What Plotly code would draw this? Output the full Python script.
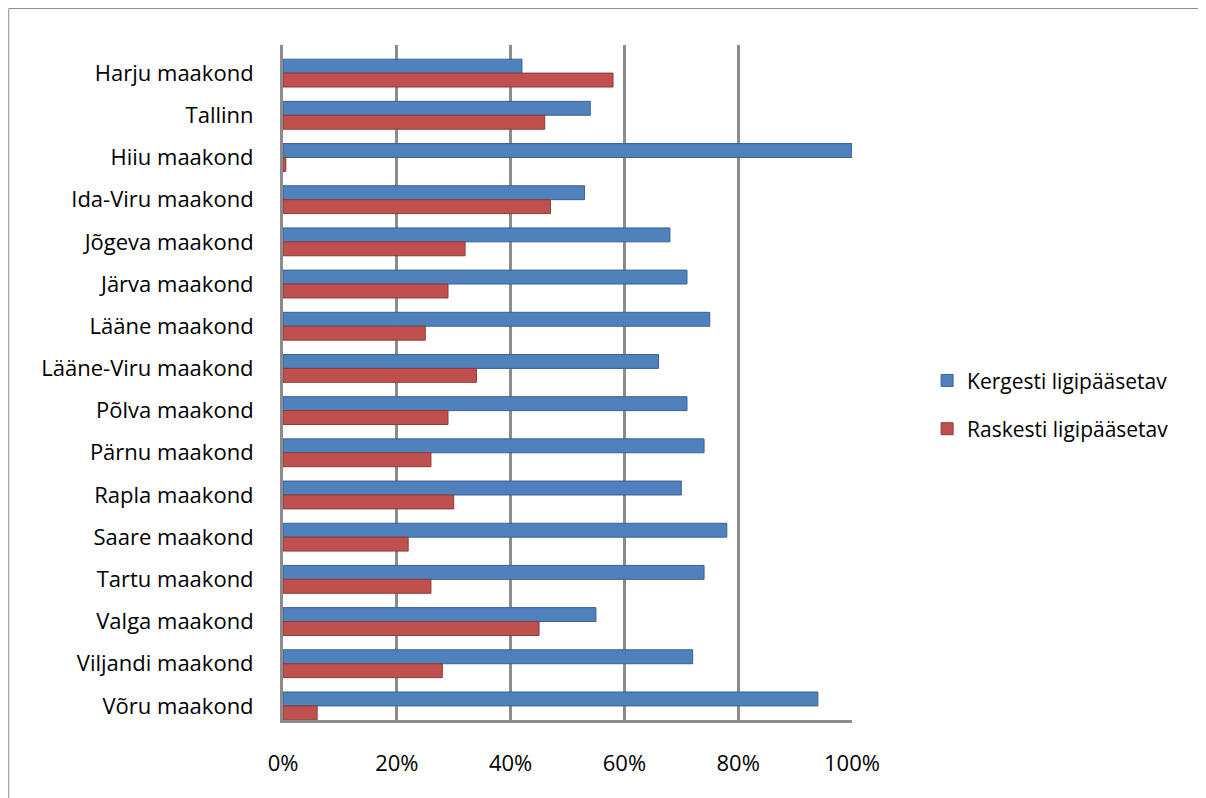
import plotly.graph_objects as go

regions = ['Harju maakond', 'Tallinn', 'Hiiu maakond', 'Ida-Viru maakond', 'Jõgeva maakond',
           'Järva maakond', 'Lääne maakond', 'Lääne-Viru maakond', 'Põlva maakond', 'Pärnu maakond',
           'Rapla maakond', 'Saare maakond', 'Tartu maakond', 'Valga maakond', 'Viljandi maakond',
           'Võru maakond']

easy = [0.42, 0.54, 1.00, 0.53, 0.68, 0.71, 0.75, 0.66, 0.71, 0.74, 0.70, 0.78, 0.74, 0.55, 0.72, 0.94]
hard = [0.58, 0.46, 0.005, 0.47, 0.32, 0.29, 0.25, 0.34, 0.29, 0.26, 0.30, 0.22, 0.26, 0.45, 0.28, 0.06]

fig = go.Figure()
fig.add_trace(go.Bar(y=regions, x=easy, orientation='h', name='Kergesti ligipääsetav',
                     marker=dict(color='#4F81BD', line=dict(color='#3A6293', width=1)),
                     legendgroup='a'))
fig.add_trace(go.Bar(y=regions, x=hard, orientation='h', name='Raskesti ligipääsetav',
                     marker=dict(color='#C0504D', line=dict(color='#8E3B39', width=1)),
                     legendgroup='b'))

fig.update_layout(
    width=1206, height=798,
    barmode='group', bargap=0.34, bargroupgap=0,
    plot_bgcolor='white', paper_bgcolor='white',
    margin=dict(l=275, r=362, t=37, b=86),
    font=dict(family='Open Sans', size=22, color='black'),
    legend=dict(x=1.132, y=0.467, xanchor='left', yanchor='middle', traceorder='grouped',
                tracegroupgap=18, font=dict(size=21), itemwidth=30),
    xaxis=dict(range=[0, 1.0], tickformat='.0%', dtick=0.2, showgrid=True,
               gridcolor='#8C8C8C', gridwidth=3, showline=True, linecolor='#8C8C8C',
               linewidth=3, zeroline=False, ticklabelstandoff=22),
    yaxis=dict(range=[15.334, -0.666], showline=True, linecolor='#8C8C8C', linewidth=3,
               ticks='', ticklabelstandoff=22),
    shapes=[dict(type='rect', xref='paper', yref='paper', x0=-0.482, x1=1.619,
                 y0=-0.2, y1=1.054, line=dict(color='#8C8C8C', width=1))],
)

fig.write_html("out.html")
